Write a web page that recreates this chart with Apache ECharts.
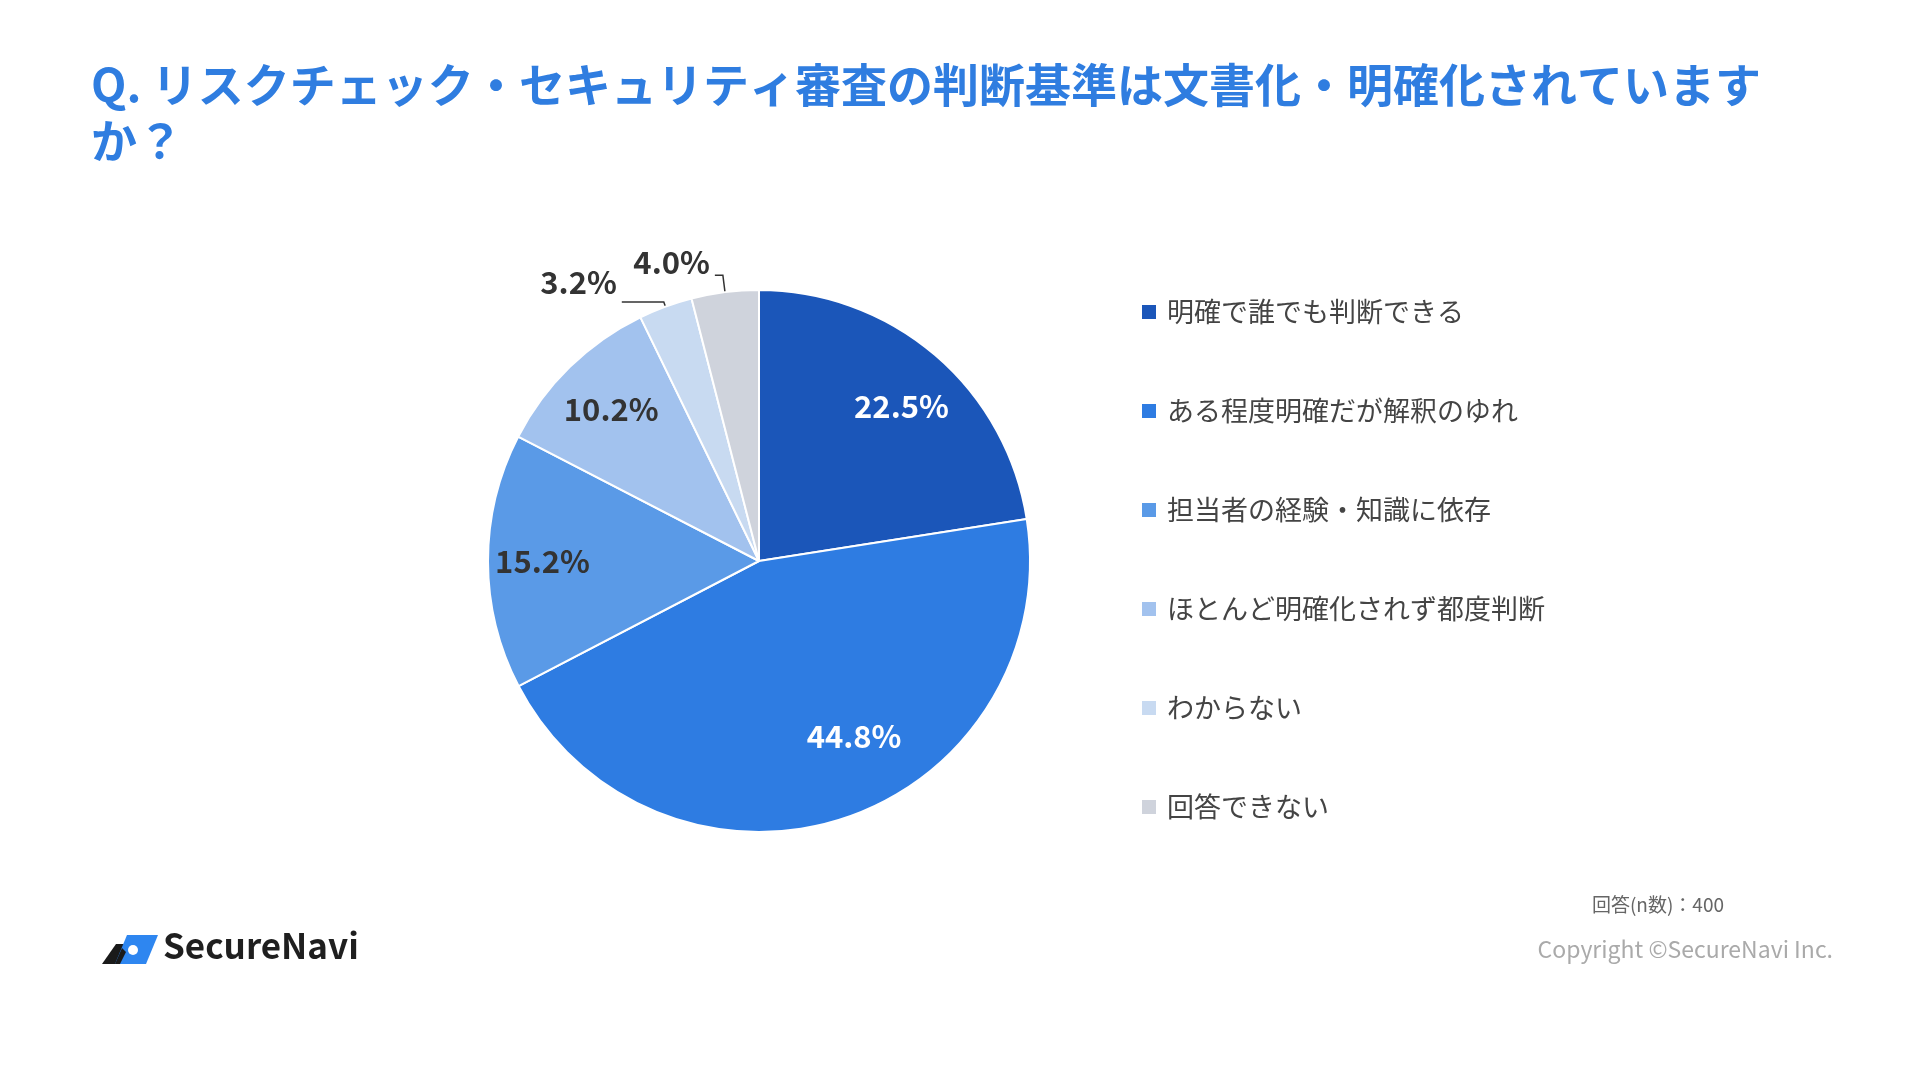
<!DOCTYPE html>
<html>
<head>
<meta charset="utf-8">
<script src="https://cdn.jsdelivr.net/npm/echarts@6/dist/echarts.min.js"></script>
<style>
html,body{margin:0;padding:0;background:#fff;}
#c{width:1920px;height:1074px;}
</style>
</head>
<body>
<div id="c"></div>
<script>
const categories = ['明確で誰でも判断できる','ある程度明確だが解釈のゆれ','担当者の経験・知識に依存','ほとんど明確化されず都度判断','わからない','回答できない'];
const values = [22.5, 44.8, 15.2, 10.2, 3.2, 4.0];
const titleText = 'Q. リスクチェック・セキュリティ審査の判断基準は文書化・明確化されています\nか？';
const sampleNote = '回答(n数)：400';
const copyright = 'Copyright ©SecureNavi Inc.';
const brand = 'SecureNavi';

const colors = ['#1b56b9','#2e7ce2','#5a9ae7','#a2c2ee','#c8daf1','#cfd3dc'];
const insideLabelColors = ['#ffffff','#ffffff','#333333','#333333','#333333','#333333'];
const outsideLine = {4: {length: 5, length2: 42, dy: -20}, 5: {length: 17, length2: 8, dy: -13}};
const insideNudge = {0: [5, 6], 1: [29, -26], 2: [-5, 0]};
const FONT = '"Noto Sans CJK JP", "Noto Sans", sans-serif';

const chart = echarts.init(document.getElementById('c'));

const mainData = categories.map((name, i) => {
  const item = {name: name, value: values[i], itemStyle: {color: colors[i]}};
  if (outsideLine[i]) {
    item.label = {show: true, position: 'outside'};
    item.labelLine = {show: true, length: outsideLine[i].length, length2: outsideLine[i].length2};
  }
  return item;
});
const labelData = categories.map((name, i) => ({
  name: name, value: values[i],
  label: {show: !outsideLine[i], color: insideLabelColors[i]}
}));

chart.setOption({
  backgroundColor: '#ffffff',
  animation: false,
  title: {
    text: titleText,
    left: 86, top: 52,
    textStyle: {fontFamily: FONT, fontSize: 46, fontWeight: 'bold', color: '#2f7de0', lineHeight: 56}
  },
  legend: {
    orient: 'vertical',
    left: 1140, top: 297,
    padding: 0,
    itemWidth: 16, itemHeight: 16,
    itemGap: 69,
    icon: 'rect',
    data: categories,
    selectedMode: false,
    textStyle: {fontFamily: FONT, fontSize: 27, color: '#444444', lineHeight: 30, padding: [0,0,0,5]}
  },
  series: [
    {
      type: 'pie',
      name: 'main',
      center: [759, 561],
      radius: [0, 271],
      startAngle: 90,
      clockwise: true,
      avoidLabelOverlap: false,
      itemStyle: {borderColor: '#ffffff', borderWidth: 2},
      label: {
        show: false,
        fontFamily: FONT, fontSize: 31, fontWeight: 'bold', color: '#333333',
        formatter: p => p.value.toFixed(1) + '%'
      },
      labelLine: {lineStyle: {color: '#333333', width: 1.5}, smooth: false},
      labelLayout: p => (outsideLine[p.dataIndex] ? {dy: outsideLine[p.dataIndex].dy} : {}),
      emphasis: {disabled: true},
      data: mainData
    },
    {
      type: 'pie',
      name: 'labels',
      silent: true,
      center: [759, 561],
      radius: [146, 271],
      startAngle: 90,
      clockwise: true,
      itemStyle: {color: 'rgba(0,0,0,0)', borderWidth: 0},
      label: {
        position: 'inside',
        fontFamily: FONT, fontSize: 31, fontWeight: 'bold',
        formatter: p => p.value.toFixed(1) + '%'
      },
      labelLine: {show: false},
      labelLayout: p => (insideNudge[p.dataIndex] ? {dx: insideNudge[p.dataIndex][0], dy: insideNudge[p.dataIndex][1]} : {}),
      emphasis: {disabled: true},
      tooltip: {show: false},
      data: labelData
    }
  ],
  graphic: [
    {type: 'text', right: 1920 - 1724, top: 895,
     style: {text: sampleNote, font: '19px ' + FONT, fill: '#666666'}},
    {type: 'text', right: 1920 - 1833, top: 938,
     style: {text: copyright, font: '23px ' + FONT, fill: '#aaaaaa'}},
    {type: 'text', left: 163, top: 928,
     style: {text: brand, font: 'bold 35px ' + FONT, fill: '#1f1f1f'}},
    {type: 'polygon', shape: {points: [[116,944],[128,944],[120,964],[102,964]]}, style: {fill: '#1a1a1a'}},
    {type: 'polygon', shape: {points: [[127,935],[158,935],[146,964],[115,964]]}, style: {fill: '#2e86f0'}},
    {type: 'circle', shape: {cx: 133, cy: 950, r: 5}, style: {fill: '#ffffff'}},
    {type: 'polygon', shape: {points: [[115,964],[122,948],[126,952],[120,964]]}, style: {fill: '#1a1a1a'}}
  ]
});
</script>
</body>
</html>
